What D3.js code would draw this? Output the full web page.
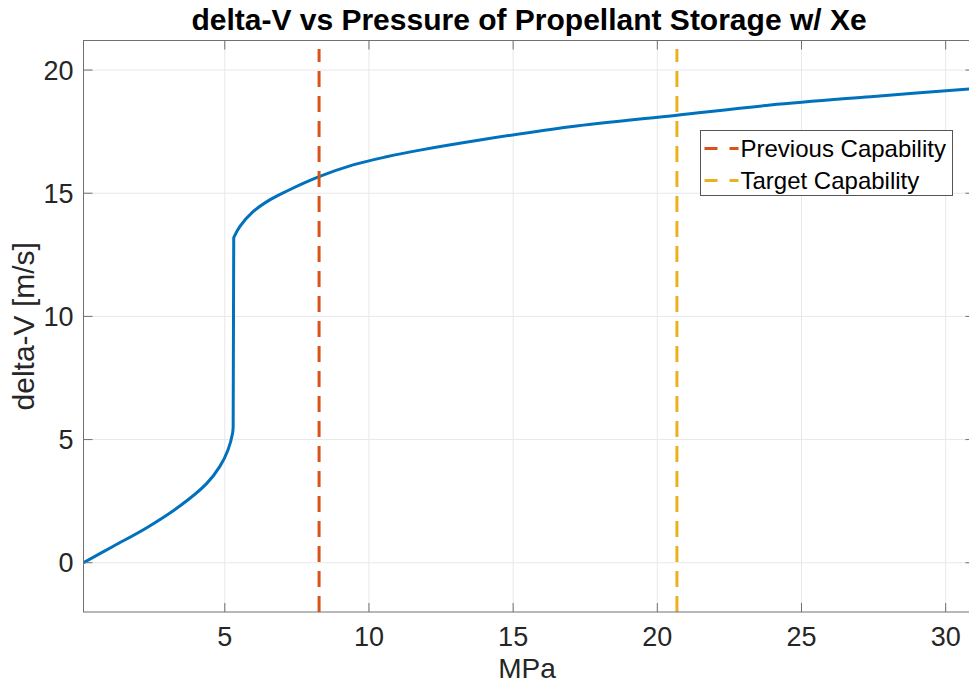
<!DOCTYPE html>
<html>

<head>
    <script src="https://d3js.org/d3.v7.min.js"></script>
    <style>
        body {
            margin: 0;
            background-color: #ffffff;
        }

        text {
            font-family: "Liberation Sans", Arial, Helvetica, sans-serif;
        }
    </style>
</head>

<body>
    <svg id="canvas" width="969" height="690"></svg>
    <script>
        const svg = d3.select('#canvas');
        const MARGIN = { left: 83.5, right: 974.5, top: 40.5, bottom: 612 };
        const TICK_LEN = 9;
        const BLUE = '#0072BD';
        const ORANGE = '#D95319';
        const YELLOW = '#EDB120';

        //curve (pressure in MPa, delta-V in m/s)
        //lower branch: gas phase up to the jump
        const pressureLow = [0.1, 1.12, 2.28, 3.44, 4.36, 4.83, 5.11, 5.27, 5.29];
        const deltaVLow = [0.0, 0.66, 1.41, 2.3, 3.2, 3.91, 4.58, 5.26, 5.5];
        //upper branch: after the jump
        const pressureHigh = [5.31, 5.52, 5.98, 6.56, 7.14, 8.27, 9.45, 10.61, 11.77, 13.85, 16.98,
            20.68, 23.92, 27.4, 31.0];
        const deltaVHigh = [13.2, 13.64, 14.25, 14.73, 15.08, 15.67, 16.15, 16.48, 16.75, 17.16, 17.7,
            18.17, 18.58, 18.92, 19.25];

        //capability markers
        const capLabels = ['Previous Capability', 'Target Capability'];
        const capPressure = [8.27, 20.68];
        const capColors = [ORANGE, YELLOW];
        const capTop = 20.85;

        const xTicks = [5, 10, 15, 20, 25, 30];
        const yTicks = [0, 5, 10, 15, 20];
        const xDomain = [0.1, 31];
        const yDomain = [-2, 21.2];

        const x = d3.scaleLinear().domain(xDomain).range([MARGIN.left, MARGIN.right]);
        const y = d3.scaleLinear().domain(yDomain).range([MARGIN.bottom, MARGIN.top]);

        //grid lines
        const grid = svg.append('g').attr('stroke', '#e8e8e8').attr('stroke-width', 1);
        grid.selectAll('.gx').data(xTicks).join('line')
            .attr('x1', d => x(d)).attr('x2', d => x(d))
            .attr('y1', MARGIN.top).attr('y2', MARGIN.bottom);
        grid.selectAll('.gy').data(yTicks).join('line')
            .attr('y1', d => y(d)).attr('y2', d => y(d))
            .attr('x1', MARGIN.left).attr('x2', MARGIN.right);

        //clip everything to the axes box
        svg.append('clipPath').attr('id', 'clip')
            .append('rect')
            .attr('x', MARGIN.left).attr('y', MARGIN.top)
            .attr('width', MARGIN.right - MARGIN.left).attr('height', MARGIN.bottom - MARGIN.top);

        const plot = svg.append('g').attr('clip-path', 'url(#clip)');

        //main curve: smooth branches joined by a straight vertical jump
        const line = d3.line().x(d => x(d[0])).y(d => y(d[1])).curve(d3.curveCatmullRom.alpha(0.5));
        const low = line(pressureLow.map((p, i) => [p, deltaVLow[i]]));
        const high = line(pressureHigh.map((p, i) => [p, deltaVHigh[i]]));
        plot.append('path')
            .attr('d', low + 'L' + high.slice(1))
            .attr('fill', 'none')
            .attr('stroke', BLUE)
            .attr('stroke-width', 3)
            .attr('stroke-linejoin', 'round');

        //dashed vertical capability lines
        plot.selectAll('.cap').data(capPressure).join('line')
            .attr('class', 'cap')
            .attr('x1', d => x(d)).attr('x2', d => x(d))
            .attr('y1', y(yDomain[0])).attr('y2', y(capTop))
            .attr('stroke', (d, i) => capColors[i])
            .attr('stroke-width', 3)
            .attr('stroke-dasharray', '16,9');

        //axes box with inward ticks on all sides
        const axes = svg.append('g').attr('stroke', '#707070').attr('stroke-width', 1).attr('fill', 'none');
        axes.append('rect')
            .attr('x', MARGIN.left).attr('y', MARGIN.top)
            .attr('width', MARGIN.right - MARGIN.left).attr('height', MARGIN.bottom - MARGIN.top);
        xTicks.forEach(t => {
            axes.append('line').attr('x1', x(t)).attr('x2', x(t)).attr('y1', MARGIN.bottom).attr('y2', MARGIN.bottom - TICK_LEN);
            axes.append('line').attr('x1', x(t)).attr('x2', x(t)).attr('y1', MARGIN.top).attr('y2', MARGIN.top + TICK_LEN);
        });
        yTicks.forEach(t => {
            axes.append('line').attr('y1', y(t)).attr('y2', y(t)).attr('x1', MARGIN.left).attr('x2', MARGIN.left + TICK_LEN);
            axes.append('line').attr('y1', y(t)).attr('y2', y(t)).attr('x1', MARGIN.right).attr('x2', MARGIN.right - TICK_LEN);
        });

        //tick labels
        svg.selectAll('.xl').data(xTicks).join('text')
            .attr('x', d => x(d)).attr('y', 646)
            .attr('text-anchor', 'middle')
            .attr('font-size', 27)
            .attr('fill', '#262626')
            .text(d => d);
        svg.selectAll('.yl').data(yTicks).join('text')
            .attr('x', MARGIN.left - 10).attr('y', d => y(d) + 9.5)
            .attr('text-anchor', 'end')
            .attr('font-size', 27)
            .attr('fill', '#262626')
            .text(d => d);

        //axis labels and title
        svg.append('text')
            .attr('x', (MARGIN.left + MARGIN.right) / 2 - 2).attr('y', 678)
            .attr('text-anchor', 'middle')
            .attr('font-size', 28)
            .attr('fill', '#262626')
            .text('MPa');
        svg.append('text')
            .attr('transform', `translate(34,${(MARGIN.top + MARGIN.bottom) / 2}) rotate(-90)`)
            .attr('text-anchor', 'middle')
            .attr('font-size', 30)
            .attr('fill', '#262626')
            .text('delta-V [m/s]');
        svg.append('text')
            .attr('x', 529).attr('y', 30)
            .attr('text-anchor', 'middle')
            .attr('font-size', 30)
            .attr('font-weight', 'bold')
            .attr('fill', '#000000')
            .text('delta-V vs Pressure of Propellant Storage w/ Xe');

        //legend
        const legend = svg.append('g').attr('transform', 'translate(700.5,130.5)');
        legend.append('rect')
            .attr('width', 252).attr('height', 65)
            .attr('fill', '#ffffff')
            .attr('stroke', '#555555')
            .attr('stroke-width', 1);
        const rows = legend.selectAll('.row').data(capLabels).join('g')
            .attr('transform', (d, i) => `translate(0,${18 + i * 32})`);
        rows.append('line')
            .attr('x1', 4).attr('x2', 38)
            .attr('stroke', (d, i) => capColors[i])
            .attr('stroke-width', 3)
            .attr('stroke-dasharray', '13,12');
        rows.append('text')
            .attr('x', 40).attr('y', 8.5)
            .attr('font-size', 24)
            .attr('fill', '#000000')
            .text(d => d);
    </script>
</body>

</html>
